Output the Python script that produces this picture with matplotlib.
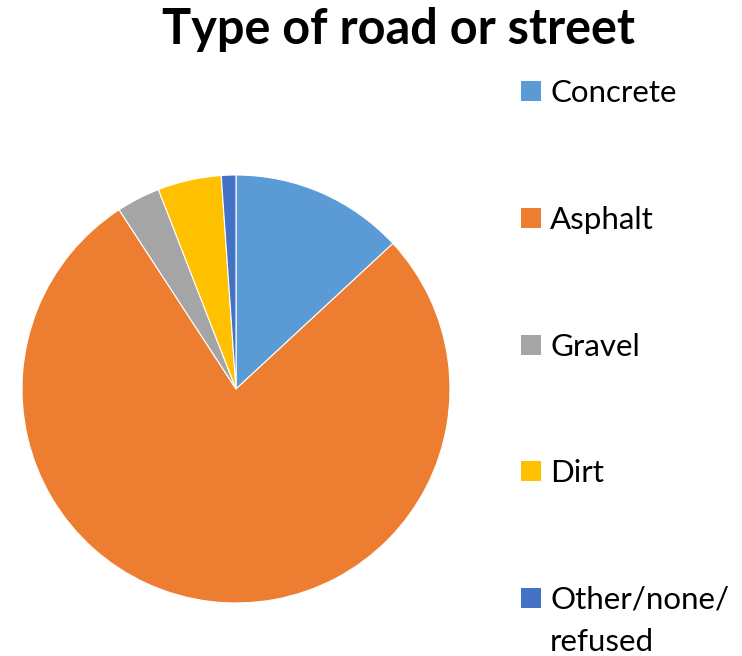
import matplotlib.pyplot as plt
from matplotlib.patches import Rectangle

road_types = ['Concrete', 'Asphalt', 'Gravel', 'Dirt', 'Other/none/\nrefused']
shares = [13.1, 77.7, 3.3, 4.8, 1.1]
colors = ['#5B9BD5', '#ED7D31', '#A5A5A5', '#FFC000', '#4472C4']

W, H = 742, 656
fig = plt.figure(figsize=(W / 100, H / 100), dpi=100)

# pie area: centre (236, 389) px, radius 214 px
cx, cy, r = 236, 389, 214
ax = fig.add_axes([(cx - r) / W, (H - cy - r) / H, 2 * r / W, 2 * r / H])
wedges, _ = ax.pie(shares, colors=colors, startangle=90, counterclock=False,
                   wedgeprops=dict(edgecolor='white', linewidth=0.8))
ax.set_xlim(-1, 1)
ax.set_ylim(-1, 1)
ax.set_aspect('equal')
ax.axis('off')

fig.text(398 / W, 1 - 30 / H, 'Type of road or street', ha='center', va='center',
         fontsize=35, fontweight='bold', family='Lato')

# legend, drawn by hand so the marker sits on the first text line
row_y = [91, 218, 345, 471, 598]
line_h = 42
for lab, col, y in zip(road_types, colors, row_y):
    fig.add_artist(Rectangle((521 / W, 1 - (y + 10) / H), 20 / W, 20 / H,
                             transform=fig.transFigure, facecolor=col, edgecolor='none'))
    for i, part in enumerate(lab.split('\n')):
        fig.text(550 / W, 1 - (y + 11 + i * line_h) / H, part, ha='left', va='baseline',
                 fontsize=22.5, family='Lato')

fig.savefig('out.png', dpi=100)
